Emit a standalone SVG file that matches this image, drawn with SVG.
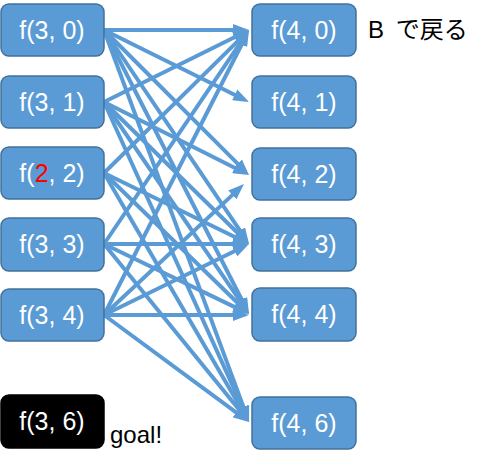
<svg xmlns="http://www.w3.org/2000/svg" width="484" height="467" viewBox="0 0 484 467">
<style>
.box{fill:#5B9BD5;stroke:#41719C;stroke-width:1.5}
.goal{fill:#000;stroke:#000;stroke-width:1.5}
.lbl{font-family:"Liberation Sans",Arial,sans-serif;font-size:25px;fill:#fff;text-anchor:middle}
.edge{stroke:#5B9BD5;stroke-width:4;fill:none;marker-end:url(#ah)}
.txt{font-family:"Liberation Sans","Noto Sans CJK JP",sans-serif;fill:#000;font-size:24px}
</style>
<defs>
<marker id="ah" markerWidth="4" markerHeight="3" viewBox="0 0 4 3" refX="0.5" refY="1.5" orient="auto" markerUnits="strokeWidth">
<path d="M0,0 L4,1.5 L0,3 z" fill="#5B9BD5"/>
</marker>
</defs>
<g id="connectors">
<line class="edge" x1="104" y1="30" x2="235" y2="30"/>
<line class="edge" x1="104" y1="30" x2="236.5" y2="95.7"/>
<line class="edge" x1="104" y1="30" x2="239.1" y2="165.1"/>
<line class="edge" x1="104" y1="30" x2="241.2" y2="232.4"/>
<line class="edge" x1="104" y1="30" x2="242.7" y2="301.5"/>
<line class="edge" x1="104" y1="30" x2="244.2" y2="408.9"/>
<line class="edge" x1="104" y1="102" x2="236.5" y2="36.3"/>
<line class="edge" x1="104" y1="102" x2="236.5" y2="168.7"/>
<line class="edge" x1="104" y1="102" x2="239" y2="234.2"/>
<line class="edge" x1="104" y1="102" x2="241.1" y2="302.4"/>
<line class="edge" x1="104" y1="102" x2="243.3" y2="409.2"/>
<line class="edge" x1="104" y1="173" x2="239.1" y2="39.9"/>
<line class="edge" x1="104" y1="173" x2="236.4" y2="237.8"/>
<line class="edge" x1="104" y1="173" x2="239" y2="304.2"/>
<line class="edge" x1="104" y1="173" x2="242" y2="409.9"/>
<line class="edge" x1="104" y1="244" x2="241.2" y2="41.6"/>
<line class="edge" x1="104" y1="244" x2="235" y2="244"/>
<line class="edge" x1="104" y1="244" x2="236.4" y2="307.9"/>
<line class="edge" x1="104" y1="244" x2="240.2" y2="411.1"/>
<line class="edge" x1="104" y1="315" x2="242.7" y2="42.5"/>
<line class="edge" x1="104" y1="315" x2="233.8" y2="193.6"/>
<line class="edge" x1="104" y1="315" x2="236.4" y2="250.2"/>
<line class="edge" x1="104" y1="315" x2="235" y2="315"/>
<line class="edge" x1="104" y1="315" x2="237.8" y2="413.7"/>
</g>
<g id="n30"><rect class="box" x="1" y="4" width="103" height="52" rx="8"/><text class="lbl" x="52" y="39">f(3, 0)</text></g>
<g id="n31"><rect class="box" x="1" y="76" width="103" height="52" rx="8"/><text class="lbl" x="52" y="111">f(3, 1)</text></g>
<g id="n32"><rect class="box" x="1" y="147" width="103" height="52" rx="8"/><text class="lbl" x="52" y="182">f(<tspan fill="#FF0000">2</tspan>, 2)</text></g>
<g id="n33"><rect class="box" x="1" y="218" width="103" height="53" rx="8"/><text class="lbl" x="52" y="253">f(3, 3)</text></g>
<g id="n34"><rect class="box" x="1" y="289" width="103" height="52" rx="8"/><text class="lbl" x="52" y="324">f(3, 4)</text></g>
<g id="n36"><rect class="goal" x="1" y="395" width="103" height="53" rx="8"/><text class="lbl" x="52" y="430">f(3, 6)</text></g>
<g id="n40"><rect class="box" x="252" y="4" width="104" height="52" rx="8"/><text class="lbl" x="304" y="39">f(4, 0)</text></g>
<g id="n41"><rect class="box" x="252" y="76" width="104" height="52" rx="8"/><text class="lbl" x="304" y="111">f(4, 1)</text></g>
<g id="n42"><rect class="box" x="252" y="148" width="104" height="52" rx="8"/><text class="lbl" x="304" y="183">f(4, 2)</text></g>
<g id="n43"><rect class="box" x="252" y="218" width="104" height="53" rx="8"/><text class="lbl" x="304" y="253">f(4, 3)</text></g>
<g id="n44"><rect class="box" x="252" y="288" width="104" height="53" rx="8"/><text class="lbl" x="304" y="323">f(4, 4)</text></g>
<g id="n46"><rect class="box" x="252" y="397" width="104" height="52" rx="8"/><text class="lbl" x="304" y="432">f(4, 6)</text></g>
<text class="txt" x="368" y="38" style="word-spacing:5px">B で戻る</text>
<text class="txt" x="110" y="443">goal!</text>
</svg>
